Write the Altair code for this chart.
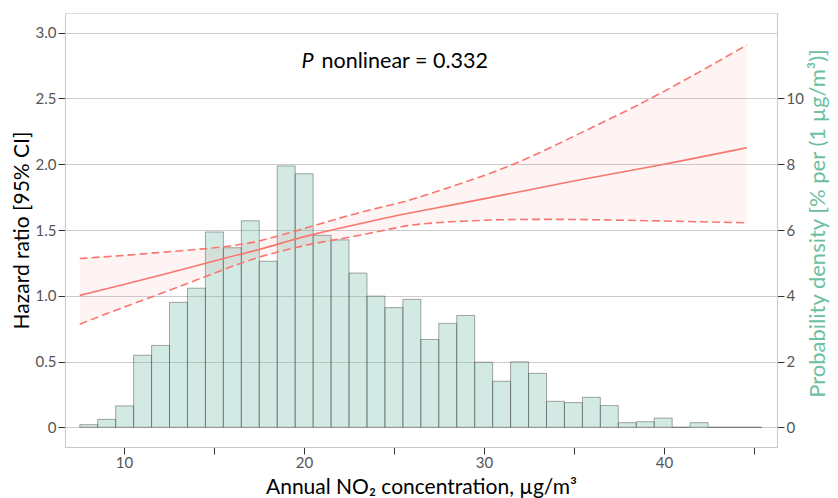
import altair as alt
import pandas as pd

# ---- histogram (probability density, % per 1 µg/m3) ----
BIN_START = 7.54
BIN_WIDTH = 0.9974
density = [0.08, 0.24, 0.65, 2.19, 2.49, 3.80, 4.23, 5.94, 5.46, 6.28,
           5.05, 7.95, 7.71, 5.84, 5.70, 4.69, 3.99, 3.64, 3.89, 2.67,
           3.16, 3.40, 1.98, 1.40, 1.99, 1.64, 0.79, 0.75, 0.91, 0.66,
           0.14, 0.17, 0.28, 0.00, 0.14, 0.00, 0.00, 0.00]

# ---- spline hazard ratio with 95% CI ----
no2 = [7.54, 9.76, 11.98, 15.69, 17.54, 19.2, 20.5, 22.91, 25.32, 26.43,
       29.02, 31.8, 35.69, 39.39, 44.61]
hr = [1.003, 1.078, 1.154, 1.29, 1.35, 1.42, 1.468, 1.543, 1.615, 1.645,
      1.710, 1.786, 1.893, 1.981, 2.126]
hr_upper = [1.283, 1.304, 1.329, 1.37, 1.413, 1.48, 1.530, 1.630, 1.705, 1.750,
            1.867, 1.999, 2.26, 2.50, 2.907]
hr_lower = [0.784, 0.903, 1.012, 1.208, 1.300, 1.355, 1.398, 1.452, 1.524, 1.548,
            1.570, 1.583, 1.580, 1.570, 1.555]

x_ticks = [10, 15, 20, 25, 30, 35, 40, 45]
hr_ticks = [0, 0.5, 1.0, 1.5, 2.0, 2.5, 3.0]
dens_ticks = [0, 2, 4, 6, 8, 10]

annot_prefix = "P"
annot_text = "nonlinear = 0.332"
ANNOT_X = 20.7
ANNOT_Y = 2.73

FONT = "Lato"
RED = "#f8766d"
TEAL_TITLE = "#6cbf9f"
TITLE_SIZE = 21

hist_df = pd.DataFrame({"density": density})
hist_df["start"] = BIN_START + BIN_WIDTH * hist_df.index
hist_df["end"] = hist_df["start"] + BIN_WIDTH
hist_df["base"] = 0.0

curve_df = pd.DataFrame({"no2": no2, "hr": hr, "upper": hr_upper, "lower": hr_lower})
annot_df = pd.DataFrame({"no2": [ANNOT_X], "y": [ANNOT_Y], "p": [annot_prefix], "t": [annot_text]})

x_scale = alt.Scale(domain=[6.72, 46.28], nice=False, zero=False)
x_axis = alt.Axis(values=x_ticks, labelExpr="datum.value % 10 == 0 ? datum.label : ''",
                  grid=False, tickSize=7, tickColor="#333333", domainColor="#c8c8c8",
                  labelColor="#555555", labelFontSize=15, labelFont=FONT, labelPadding=1,
                  titleFont=FONT, titleFontSize=TITLE_SIZE, titleFontWeight="normal",
                  titleColor="#000000", titleBaseline="alphabetic", titleAnchor="middle",
                  titleY=46)
X_TITLE = "Annual NO₂ concentration, µg/m³"

hr_scale = alt.Scale(domain=[-0.15, 3.15], nice=False, zero=False)
hr_axis = alt.Axis(orient="left", values=hr_ticks,
                   labelExpr="datum.value == 0 ? '0' : format(datum.value, '.1f')",
                   grid=True, gridColor="#cccccc", tickSize=7, tickColor="#333333",
                   domainColor="#c8c8c8", labelColor="#555555", labelFontSize=15,
                   labelFont=FONT, labelPadding=2, titleFont=FONT, titleFontSize=TITLE_SIZE,
                   titleFontWeight="normal", titleColor="#000000",
                   titleAngle=270, titleAlign="center", titleBaseline="alphabetic",
                   titleX=-37, titleY=217)
HR_TITLE = "Hazard ratio [95% CI]"


def xenc(field):
    return alt.X(field, type="quantitative", scale=x_scale, axis=x_axis, title=X_TITLE)


def yenc(field):
    return alt.Y(field, type="quantitative", scale=hr_scale, axis=hr_axis, title=HR_TITLE)


hist = alt.Chart(hist_df).mark_rect(
    fill="#6cb6a2", fillOpacity=0.3, stroke="#404040", strokeOpacity=0.45, strokeWidth=1
).encode(
    x=xenc("start"),
    x2="end",
    y=alt.Y("density:Q", scale=alt.Scale(domain=[-0.6, 12.6], nice=False, zero=False),
            axis=alt.Axis(orient="right", values=dens_ticks, grid=False, tickSize=7,
                          tickColor="#333333", domainColor="#c8c8c8", labelColor="#555555",
                          labelFontSize=15, labelFont=FONT, labelPadding=2,
                          titleFont=FONT, titleFontSize=22, titleFontWeight="normal",
                          titleColor=TEAL_TITLE, titleAngle=270, titleAlign="center",
                          titleBaseline="alphabetic", titleX=47, titleY=210),
            title="Probability density [% per (1 µg/m³)]"),
    y2="base",
)

band = alt.Chart(curve_df).mark_area(color=RED, opacity=0.08, interpolate="basis").encode(
    x=xenc("no2"), y=yenc("upper"), y2="lower"
)
main_line = alt.Chart(curve_df).mark_line(color=RED, strokeWidth=1.6, interpolate="basis").encode(
    x=xenc("no2"), y=yenc("hr")
)
up_line = alt.Chart(curve_df).mark_line(color=RED, strokeWidth=1.6, strokeDash=[8, 4],
                                        interpolate="basis").encode(
    x=xenc("no2"), y=yenc("upper")
)
lo_line = alt.Chart(curve_df).mark_line(color=RED, strokeWidth=1.6, strokeDash=[8, 4],
                                        interpolate="basis").encode(
    x=xenc("no2"), y=yenc("lower")
)
p_text = alt.Chart(annot_df).mark_text(
    font=FONT, fontSize=21.5, fontStyle="italic", align="right", baseline="alphabetic",
    dx=-3, color="#000000"
).encode(x=xenc("no2"), y=yenc("y"), text="p:N")
rest_text = alt.Chart(annot_df).mark_text(
    font=FONT, fontSize=21.5, align="left", baseline="alphabetic", dx=5, color="#000000"
).encode(x=xenc("no2"), y=yenc("y"), text="t:N")

curves = alt.layer(band, main_line, up_line, lo_line, p_text, rest_text)

chart = alt.layer(hist, curves).resolve_scale(y="independent").properties(
    width=712, height=434,
    autosize=alt.AutoSizeParams(type="none"),
    padding={"left": 57, "top": 5, "right": 53, "bottom": 56},
).configure_view(strokeWidth=0).configure(background="#ffffff")

chart.save("out.html", embed_options={"renderer": "svg", "actions": False})
